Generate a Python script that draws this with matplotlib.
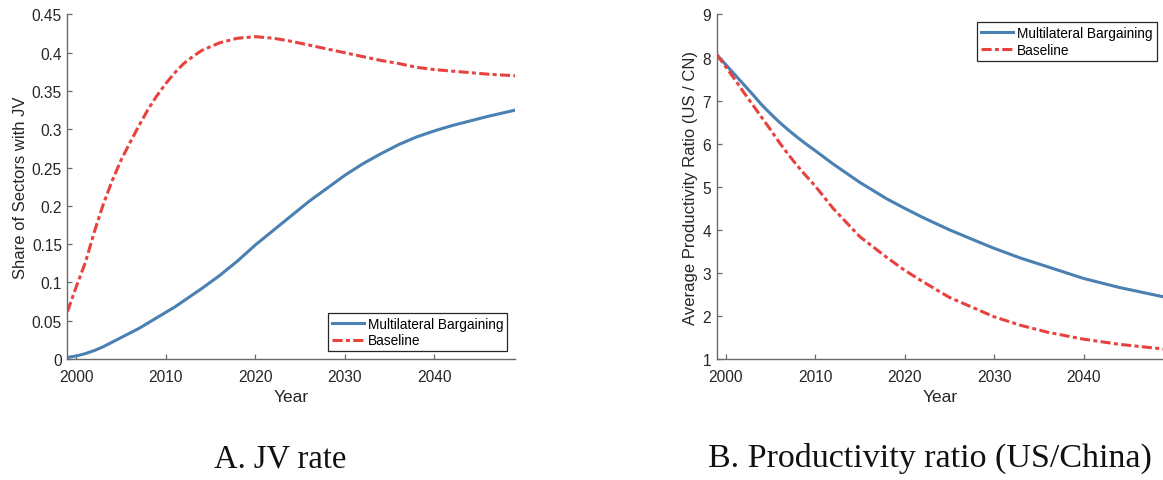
"""JV rate and US/China productivity ratio: multilateral bargaining vs baseline."""

import matplotlib

matplotlib.use("Agg")
import matplotlib.pyplot as plt  # noqa: E402
from matplotlib.ticker import FormatStrFormatter  # noqa: E402

# panel A: share of sectors with JV
jv_years = [1999, 2000, 2001, 2002, 2003, 2004, 2005, 2006, 2007, 2008, 2009,
            2010, 2011, 2012, 2013, 2014, 2016, 2018, 2020, 2022, 2024, 2026, 2028,
            2030, 2032, 2034, 2036, 2038, 2040, 2042, 2044, 2046, 2049]
jv_multilateral = [0.002, 0.004, 0.007, 0.011, 0.016, 0.022, 0.028, 0.034, 0.040, 0.047, 0.054,
                   0.061, 0.068, 0.076, 0.084, 0.092, 0.109, 0.128, 0.149, 0.168, 0.187, 0.206,
                   0.223, 0.240, 0.255, 0.268, 0.280, 0.290, 0.298, 0.305, 0.311, 0.317, 0.325]
jv_baseline = [0.062, 0.095, 0.126, 0.166, 0.202, 0.233, 0.260, 0.283, 0.305, 0.326, 0.344,
               0.360, 0.374, 0.386, 0.395, 0.403, 0.413, 0.419, 0.421, 0.419, 0.415, 0.410,
               0.405, 0.400, 0.395, 0.390, 0.386, 0.381, 0.378, 0.376, 0.374, 0.372, 0.370]

# panel B: average productivity ratio (US / CN)
pr_years = [1999, 2000, 2001, 2002, 2003, 2004, 2005, 2006, 2007, 2008, 2009, 2010,
            2012, 2015, 2018, 2020, 2022, 2025, 2028, 2030, 2033, 2036, 2040, 2044, 2049]
pr_multilateral = [8.07, 7.84, 7.61, 7.38, 7.15, 6.91, 6.70, 6.50, 6.32, 6.15, 5.99, 5.84,
                   5.53, 5.10, 4.72, 4.50, 4.29, 4.00, 3.74, 3.57, 3.34, 3.14, 2.87, 2.66, 2.44]
pr_baseline = [8.07, 7.79, 7.50, 7.20, 6.91, 6.62, 6.33, 6.03, 5.75, 5.49, 5.25, 5.02,
               4.50, 3.84, 3.36, 3.06, 2.80, 2.43, 2.16, 1.98, 1.78, 1.62, 1.46, 1.34, 1.23]

year_ticks = [2000, 2010, 2020, 2030, 2040]
jv_ticks = [0, 0.05, 0.1, 0.15, 0.2, 0.25, 0.3, 0.35, 0.4, 0.45]
pr_ticks = [1, 2, 3, 4, 5, 6, 7, 8, 9]

series_labels = ["Multilateral Bargaining", "Baseline"]
captions = ["A. JV rate", "B. Productivity ratio (US/China)"]

BLUE = "#4A80B2"
RED = "#E8423F"
SPINE = "#6a6a6a"
TEXT = "#262626"

plt.rcParams["font.family"] = ["Liberation Sans", "DejaVu Sans"]


def style_axes(ax, yticks, ylim, ylabel):
    ax.set_xlim(1999, 2049)
    ax.set_ylim(*ylim)
    ax.set_xticks(year_ticks)
    ax.set_yticks(yticks)
    ax.yaxis.set_major_formatter(FormatStrFormatter("%g"))
    for side in ("top", "right"):
        ax.spines[side].set_visible(False)
    for side in ("left", "bottom"):
        ax.spines[side].set_color(SPINE)
        ax.spines[side].set_linewidth(1.0)
    ax.tick_params(direction="in", length=3.5, width=0.9, color=SPINE,
                   labelsize=11.2, labelcolor=TEXT)
    ax.tick_params(axis="x", pad=7)
    ax.tick_params(axis="y", pad=4)
    ax.set_xlabel("Year", fontsize=12.5, color=TEXT, labelpad=4)
    ax.set_ylabel(ylabel, fontsize=12, color=TEXT, labelpad=3)


def draw(ax, years, multi, base):
    ax.plot(years, multi, color=BLUE, lw=2.2, label=series_labels[0])
    ax.plot(years, base, color=RED, lw=2.2,
            linestyle=(0, (3.3, 1.1, 1.3, 1.1)), label=series_labels[1])


fig = plt.figure(figsize=(11.63, 4.81), dpi=100)
ax_a = fig.add_axes([0.058, 0.2516, 0.3848, 0.7162])
ax_b = fig.add_axes([0.6162, 0.2516, 0.3848, 0.7162])

draw(ax_a, jv_years, jv_multilateral, jv_baseline)
style_axes(ax_a, jv_ticks, (0, 0.45), "Share of Sectors with JV")

draw(ax_b, pr_years, pr_multilateral, pr_baseline)
style_axes(ax_b, pr_ticks, (1, 9), "Average Productivity Ratio (US / CN)")

leg_kw = dict(fontsize=9.8, handlelength=2.35, handletextpad=0.3, borderpad=0.3,
              labelspacing=0.2, fancybox=False, framealpha=1, borderaxespad=0.55)
for ax, loc in ((ax_a, "lower right"), (ax_b, "upper right")):
    leg = ax.legend(loc=loc, **leg_kw)
    leg.get_frame().set_edgecolor("#262626")
    leg.get_frame().set_linewidth(0.9)

fig.text(0.241, 0.029, captions[0], ha="center", va="baseline",
         family="Liberation Serif", fontsize=23.5, color="#111111")
fig.text(0.800, 0.029, captions[1], ha="center", va="baseline",
         family="Liberation Serif", fontsize=24.5, color="#111111")

fig.savefig("out.png", dpi=100)
